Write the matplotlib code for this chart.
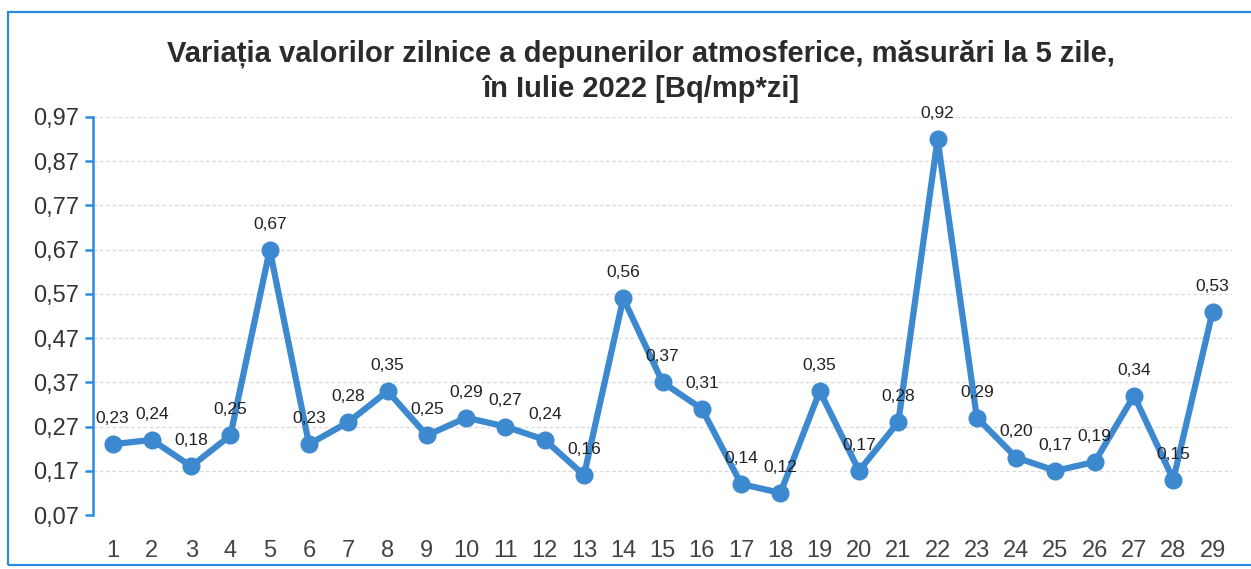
import matplotlib.pyplot as plt
from matplotlib.patches import Rectangle
from matplotlib.ticker import FixedLocator, FuncFormatter

# zile de masurare si valorile depunerilor [Bq/mp*zi]
zile = list(range(1, 30))
valori = [0.23, 0.24, 0.18, 0.25, 0.67, 0.23, 0.28, 0.35, 0.25, 0.29,
          0.27, 0.24, 0.16, 0.56, 0.37, 0.31, 0.14, 0.12, 0.35, 0.17,
          0.28, 0.92, 0.29, 0.20, 0.17, 0.19, 0.34, 0.15, 0.53]
y_ticks = [0.07, 0.17, 0.27, 0.37, 0.47, 0.57, 0.67, 0.77, 0.87, 0.97]

titlu = ("Variația valorilor zilnice a depunerilor atmosferice, măsurări la 5 zile,\n"
         "în Iulie 2022 [Bq/mp*zi]")

plt.rcParams['font.family'] = ['Liberation Sans', 'DejaVu Sans']
BLUE = '#3d89d0'
AXIS_BLUE = '#2a8ce0'

fig = plt.figure(figsize=(12.51, 5.69), dpi=100)
ax = fig.add_axes([0.0743, 0.0949, 0.9107, 0.6995])

ax.plot(zile, valori, color=BLUE, lw=4.5, marker='o', ms=12,
        markerfacecolor=BLUE, markeredgecolor=BLUE, zorder=3)

for x, v in zip(zile, valori):
    ax.annotate(f"{v:.2f}".replace('.', ','), (x, v), xytext=(0, 13),
                textcoords='offset points', ha='center', va='bottom',
                fontsize=12.5, color='#222222')

ax.set_xlim(0.5, 29.5)
ax.set_ylim(0.07, 0.97)
ax.yaxis.set_major_locator(FixedLocator(y_ticks))
ax.yaxis.set_major_formatter(FuncFormatter(lambda v, p: f"{v:.2f}".replace('.', ',')))
ax.set_xticks(zile)

ax.grid(axis='y', color='#dadada', linestyle=(0, (3, 2)), lw=0.9)
ax.set_axisbelow(True)
for s in ['top', 'right', 'bottom']:
    ax.spines[s].set_visible(False)
ax.spines['left'].set_color(AXIS_BLUE)
ax.spines['left'].set_linewidth(1.8)

ax.tick_params(axis='y', colors=AXIS_BLUE, length=6, width=1.8,
               labelsize=17, labelcolor='#333333', pad=4)
ax.tick_params(axis='x', length=0, labelsize=17, labelcolor='#444444', pad=18)

fig.suptitle(titlu, x=0.512, y=0.93, fontsize=21, fontweight='bold',
             color='#2b2b2b', linespacing=1.3)

# chenarul albastru din jurul graficului
fig.patches.append(Rectangle((0.006, 0.007), 1.1, 0.972, transform=fig.transFigure,
                             fill=False, edgecolor=AXIS_BLUE, lw=1.6))

fig.savefig('out.png', dpi=100, facecolor='white')
